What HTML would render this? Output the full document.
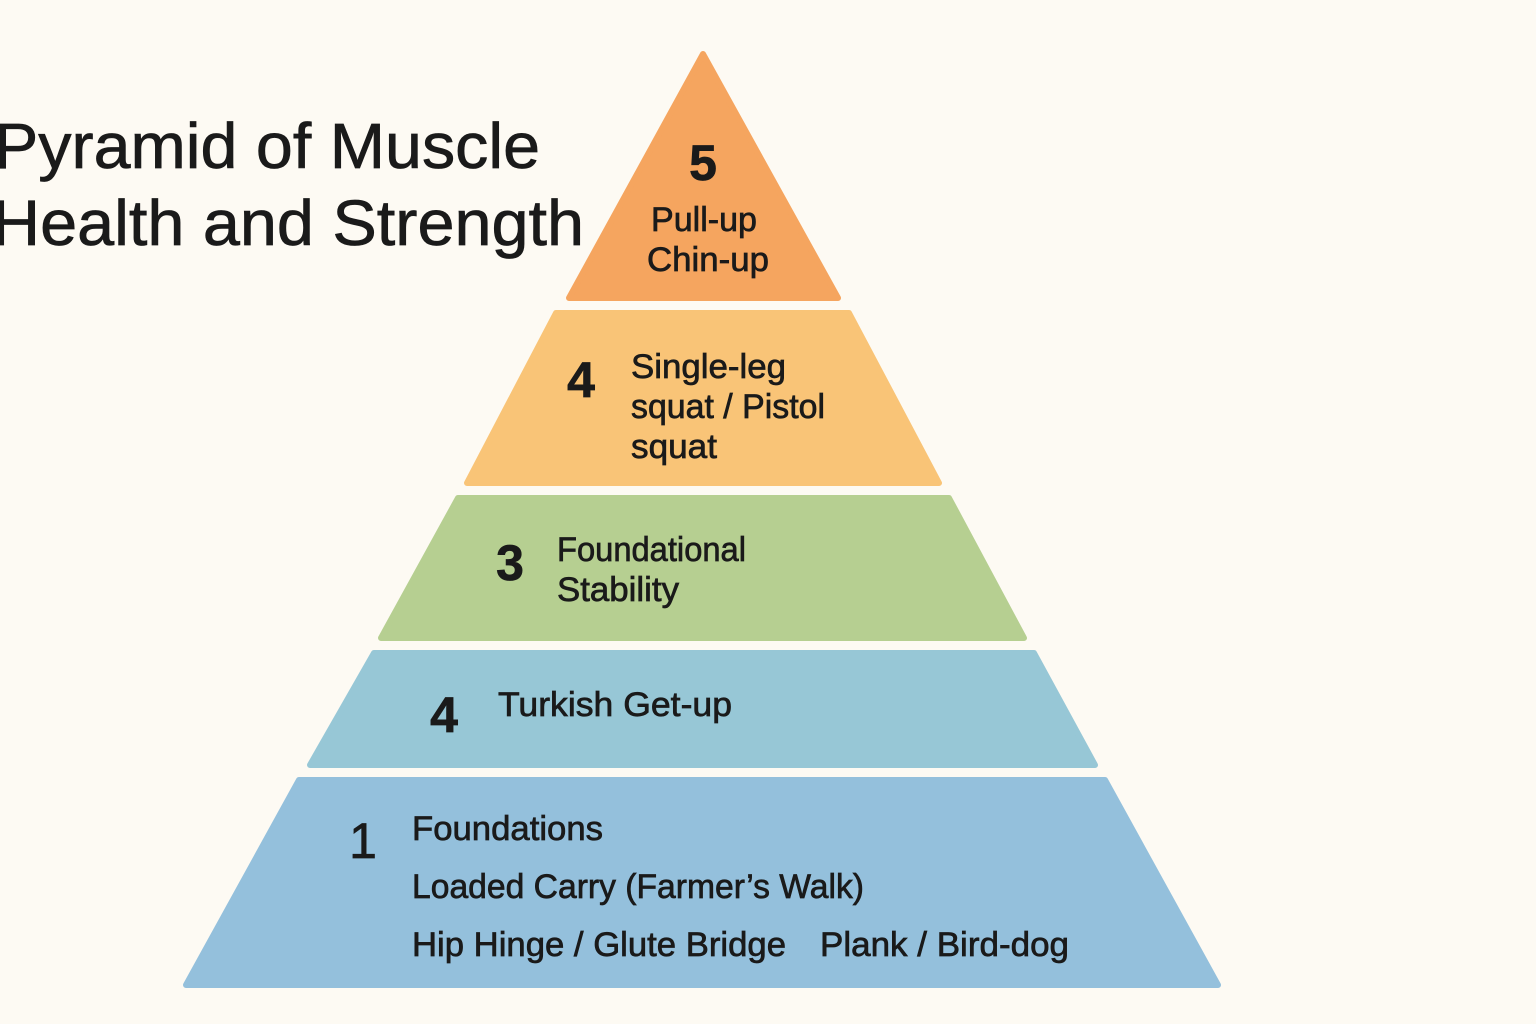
<!DOCTYPE html>
<html><head><meta charset="utf-8"><style>
html,body{margin:0;padding:0;background:#fdfaf3;}
svg{display:block;}
text{font-family:"Liberation Sans",sans-serif;fill:#1a1a1a;stroke:#1a1a1a;stroke-width:0.7;}
</style></head><body>
<svg width="1536" height="1024" viewBox="0 0 1536 1024">
<rect width="1536" height="1024" fill="#fdfaf3" stroke="none"/>
<g stroke-linejoin="round" stroke-width="6">
<polygon points="703,54 838,298 569,298" fill="#f5a55f" stroke="#f5a55f"/>
<polygon points="556,313 849,313 939,483 467,483" fill="#f9c477" stroke="#f9c477"/>
<polygon points="458,498 949,498 1024,638 381,638" fill="#b6cf91" stroke="#b6cf91"/>
<polygon points="374,653 1034,653 1095,765 310,765" fill="#97c7d6" stroke="#97c7d6"/>
<polygon points="299,780 1105,780 1218,985 186,985" fill="#94c0dc" stroke="#94c0dc"/>
</g>
<text x="-6" y="168" font-size="64" stroke-width="1.4" textLength="546" lengthAdjust="spacingAndGlyphs">Pyramid of Muscle</text>
<text x="-8" y="245" font-size="64" stroke-width="1.4" textLength="592" lengthAdjust="spacingAndGlyphs">Health and Strength</text>

<text x="703" y="180" font-size="50" font-weight="bold" text-anchor="middle">5</text>
<text x="704" y="231" font-size="34" text-anchor="middle" textLength="106" lengthAdjust="spacingAndGlyphs">Pull-up</text>
<text x="708" y="271" font-size="34" text-anchor="middle" textLength="122" lengthAdjust="spacingAndGlyphs">Chin-up</text>

<text x="581" y="397" font-size="50" font-weight="bold" text-anchor="middle">4</text>
<text x="631" y="378" font-size="34" textLength="155" lengthAdjust="spacingAndGlyphs">Single-leg</text>
<text x="631" y="418" font-size="34" textLength="194" lengthAdjust="spacingAndGlyphs">squat / Pistol</text>
<text x="631" y="458" font-size="34" textLength="86" lengthAdjust="spacingAndGlyphs">squat</text>

<text x="510" y="580" font-size="50" font-weight="bold" text-anchor="middle">3</text>
<text x="557" y="561" font-size="34" textLength="189" lengthAdjust="spacingAndGlyphs">Foundational</text>
<text x="557" y="601" font-size="34" textLength="122" lengthAdjust="spacingAndGlyphs">Stability</text>

<text x="444" y="732" font-size="50" font-weight="bold" text-anchor="middle">4</text>
<text x="498" y="716" font-size="34" textLength="234" lengthAdjust="spacingAndGlyphs">Turkish Get-up</text>

<text x="363" y="858" font-size="50" text-anchor="middle">1</text>
<text x="412" y="840" font-size="34" textLength="191" lengthAdjust="spacingAndGlyphs">Foundations</text>
<text x="412" y="898" font-size="34" textLength="452" lengthAdjust="spacingAndGlyphs">Loaded Carry (Farmer’s Walk)</text>
<text x="412" y="956" font-size="34" textLength="374" lengthAdjust="spacingAndGlyphs">Hip Hinge / Glute Bridge</text>
<text x="820" y="956" font-size="34" textLength="249" lengthAdjust="spacingAndGlyphs">Plank / Bird-dog</text>
</svg>
</body></html>
